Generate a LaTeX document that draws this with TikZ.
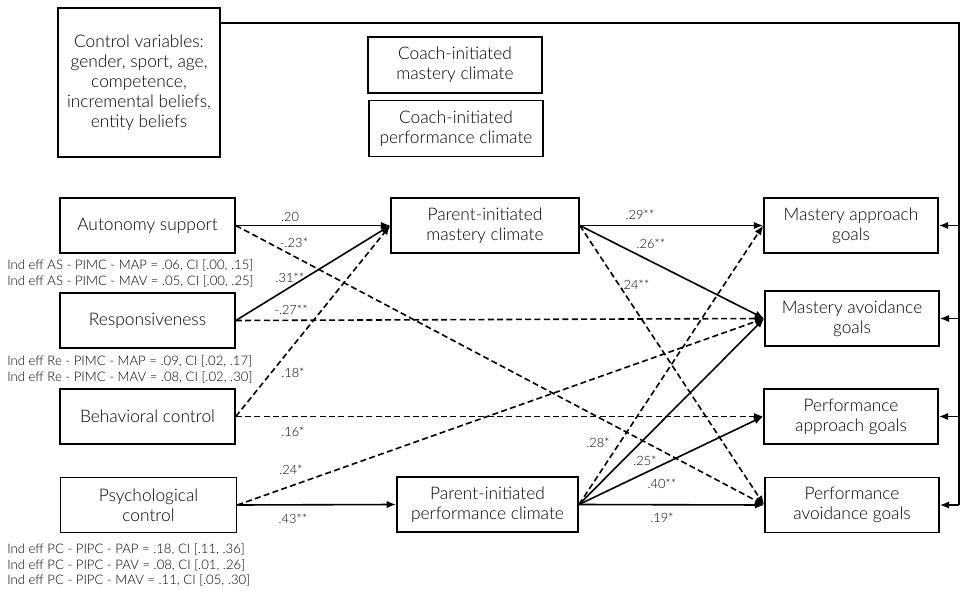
\documentclass[tikz,border=0pt]{standalone}
\usepackage{fontspec}
\setmainfont{Lato}[UprightFont=* Light]
\usetikzlibrary{arrows.meta}
\begin{document}
\begin{tikzpicture}[x=0.75pt,y=-0.75pt,
  box/.style={draw,line width=1.2pt,align=center,inner sep=0pt,font=\fontsize{13}{15}\selectfont},
  lbl/.style={inner sep=0pt,font=\fontsize{9.6}{10}\selectfont},
  ind/.style={inner sep=0pt,anchor=west,align=left,font=\fontsize{9.85}{11.6}\selectfont},
  arr/.style={line width=1.2pt,-{Latex[length=7pt,width=5.5pt]}},
  dsh/.style={arr,dash pattern=on 4.5pt off 2.5pt},
  conn/.style={line width=1.2pt}]
\useasboundingbox (0,0) rectangle (961,592);
% control and coach boxes
\node[box,minimum width=121.5pt,minimum height=111.75pt] (ctrl) at (139,82.5)
  {Control variables:\\gender, sport, age,\\competence,\\incremental beliefs,\\entity beliefs};
\node[box,minimum width=130.5pt,minimum height=42pt] (cmc) at (455,65) {Coach-initiated\\mastery climate};
\node[box,minimum width=130.5pt,minimum height=42pt] (cpc) at (456,128.5) {Coach-initiated\\performance climate};
% predictors
\node[box,minimum width=131.25pt,minimum height=41.25pt] (as) at (147.5,225.5) {Autonomy support};
\node[box,minimum width=131.25pt,minimum height=41.25pt] (re) at (147.5,320.5) {Responsiveness};
\node[box,minimum width=131.25pt,minimum height=41.25pt] (bc) at (147.5,416.5) {Behavioral control};
\node[box,minimum width=132pt,minimum height=41.25pt] (pc) at (148.5,505) {Psychological\\control};
% mediators
\node[box,minimum width=141pt,minimum height=41.25pt] (pimc) at (485,225.5) {Parent-initiated\\mastery climate};
\node[box,minimum width=136pt,minimum height=41.25pt] (pipc) at (487.5,504.5) {Parent-initiated\\performance climate};
% outcomes
\node[box,minimum width=130.5pt,minimum height=41.25pt] (map) at (851,225.5) {Mastery approach\\goals};
\node[box,minimum width=130.5pt,minimum height=41.25pt] (mav) at (852,318.5) {Mastery avoidance\\goals};
\node[box,minimum width=130.5pt,minimum height=41.25pt] (pap) at (851,416.5) {Performance\\approach goals};
\node[box,minimum width=130.5pt,minimum height=41.25pt] (pav) at (852,505) {Performance\\avoidance goals};
% control variables connector
\coordinate (ctrlout) at (220,23);
\coordinate (rt) at (959,23);
\coordinate (rb) at (959,505);
\draw[conn] (ctrlout) -- (rt) -- (rb);
\foreach \g in {map,mav,pap,pav}{\draw[arr] (rt |- \g.east) -- (\g.east);}
% predictor paths
\draw[arr] (as.east) -- (pimc.west);
\draw[dsh] (as.east) -- (pav.west);
\draw[arr] (re.east) -- (pimc.west);
\draw[dsh] (re.east) -- (mav.west);
\draw[dsh] (bc.east) -- (pimc.west);
\draw[dsh] (bc.east) -- (pap.west);
\draw[dsh] (pc.east) -- (mav.west);
\draw[arr] (pc.east) -- (pipc.west);
% mediator paths
\draw[arr] (pimc.east) -- (map.west);
\draw[arr] (pimc.east) -- (mav.west);
\draw[dsh] (pimc.east) -- (pav.west);
\draw[dsh] (pipc.east) -- (map.west);
\draw[arr] (pipc.east) -- (mav.west);
\draw[arr] (pipc.east) -- (pap.west);
\draw[arr] (pipc.east) -- (pav.west);
% path labels
\node[lbl] (l1) at (290,217) {.20};
\node[lbl] (l2) at (294,243) {-.23*};
\node[lbl] (l3) at (290,278) {.31**};
\node[lbl] (l4) at (291,310) {-.27**};
\node[lbl] (l5) at (293,373) {.18*};
\node[lbl] (l6) at (293,432) {.16*};
\node[lbl] (l7) at (291,470) {.24*};
\node[lbl] (l8) at (293,519) {.43**};
\node[lbl] (l9) at (640,215) {.29**};
\node[lbl] (l10) at (651,244) {.26**};
\node[lbl] (l11) at (635,285) {.24**};
\node[lbl] (l12) at (598,443) {.28*};
\node[lbl] (l13) at (645,461) {.25*};
\node[lbl] (l14) at (662,484) {.40**};
\node[lbl] (l15) at (662,518) {.19*};
% indirect effects
\node[ind] (i1) at (7,273.5) {Ind eff AS - PIMC - MAP = .06, CI [.00, .15]\\Ind eff AS - PIMC - MAV = .05, CI [.00, .25]};
\node[ind] (i2) at (7,369.5) {Ind eff Re - PIMC - MAP = .09, CI [.02, .17]\\Ind eff Re - PIMC - MAV = .08, CI [.02, .30]};
\node[ind] (i3) at (7,565) {Ind eff PC - PIPC - PAP = .18, CI [.11, .36]\\Ind eff PC - PIPC - PAV = .08, CI [.01, .26]\\Ind eff PC - PIPC - MAV = .11, CI [.05, .30]};
\end{tikzpicture}
\end{document}
